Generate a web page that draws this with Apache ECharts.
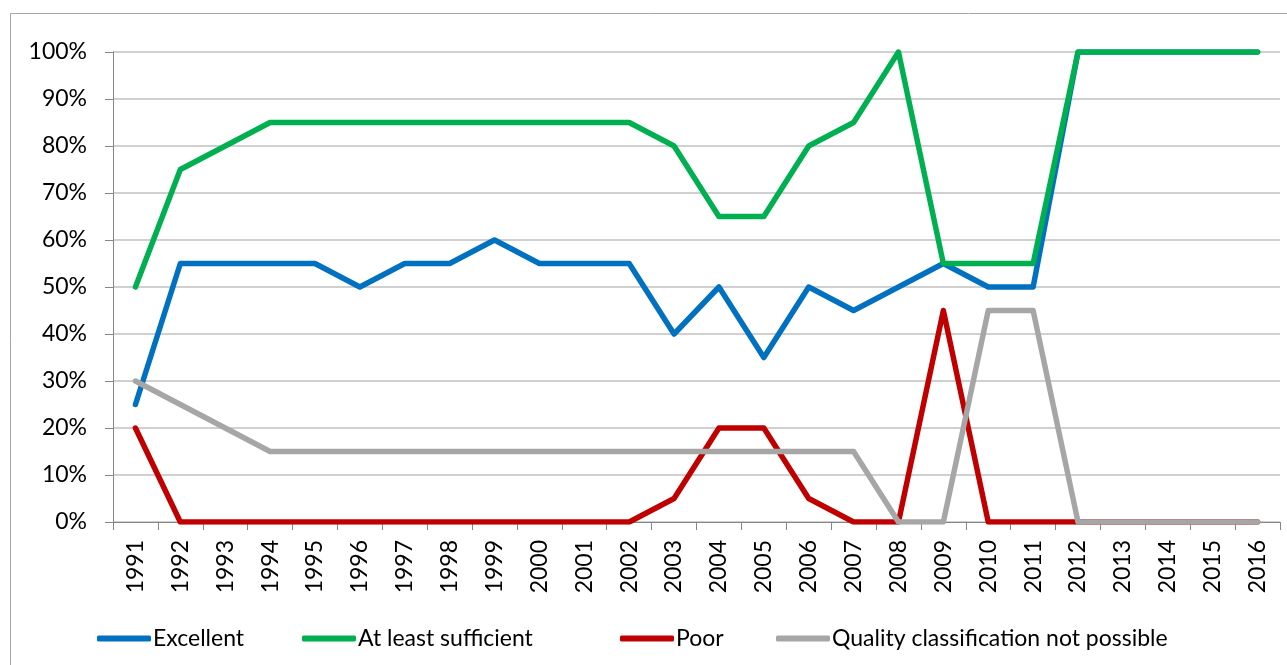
<!DOCTYPE html>
<html><head><meta charset="utf-8">
<script src="https://cdn.jsdelivr.net/npm/echarts@6/dist/echarts.min.js"></script>
<style>html,body{margin:0;padding:0;background:#fff}#c{width:1287px;height:665px}</style>
</head><body><div id="c"></div>
<script>
const years = ['1991','1992','1993','1994','1995','1996','1997','1998','1999','2000','2001','2002','2003','2004','2005','2006','2007','2008','2009','2010','2011','2012','2013','2014','2015','2016'];
const excellent = [25,55,55,55,55,50,55,55,60,55,55,55,40,50,35,50,45,50,55,50,50,100,100,100,100,100];
const sufficient = [50,75,80,85,85,85,85,85,85,85,85,85,80,65,65,80,85,100,55,55,55,100,100,100,100,100];
const poor = [20,0,0,0,0,0,0,0,0,0,0,0,5,20,20,5,0,0,45,0,0,0,0,0,0,0];
const notPossible = [30,25,20,15,15,15,15,15,15,15,15,15,15,15,15,15,15,0,0,45,45,0,0,0,0,0];
const yTicks = [0,10,20,30,40,50,60,70,80,90,100];

const names = ['Excellent','At least sufficient','Poor','Quality classification not possible'];
const colors = ['#0070C0','#00B050','#C00000','#A6A6A6'];
const datas = [excellent, sufficient, poor, notPossible];
const legendLeft = [97, 302, 620, 776];
const font = 'Lato, "Open Sans", sans-serif';

const chart = echarts.init(document.getElementById('c'));
chart.setOption({
  animation: false,
  graphic: [{type:'rect', shape:{x:10.5,y:13.5,width:1300,height:700}, style:{fill:'none', stroke:'#a6a6a6', lineWidth:1}, silent:true}],
  grid: {left:113, right:7, top:52, bottom:143, containLabel:false},
  legend: names.map((n,i)=>({
    data:[n], left: legendLeft[i], top: 627, padding: 0, itemWidth: 54, itemHeight: 6, icon: 'roundRect',
    itemStyle:{color: colors[i]},
    textStyle:{fontFamily: font, fontSize: 23, color:'#000', padding:[0,0,0,-3]}
  })),
  xAxis: {
    type:'category', data: years, boundaryGap:true,
    axisLine:{lineStyle:{color:'#868686', width:1}},
    axisTick:{show:true, length:8, interval:0, alignWithLabel:false, lineStyle:{color:'#868686'}},
    axisLabel:{rotate:90, interval:0, margin:18, fontFamily:font, fontSize:23, color:'#000'}
  },
  yAxis: {
    type:'value', min:0, max:100, interval:10,
    axisLine:{show:true, lineStyle:{color:'#868686', width:1}},
    axisTick:{show:true, length:8, lineStyle:{color:'#868686'}},
    axisLabel:{formatter: v => yTicks.includes(v) ? v + '%' : '', margin:26, fontFamily:font, fontSize:23, color:'#000'},
    splitLine:{show:true, lineStyle:{color:'#c0c0c0', width:1.5}}
  },
  series: names.map((n,i)=>({
    name:n, type:'line', data: datas[i], showSymbol:false, symbol:'none',
    lineStyle:{color:colors[i], width:5.5, join:'round', cap:'round'},
    itemStyle:{color:colors[i]}
  }))
});
</script></body></html>
